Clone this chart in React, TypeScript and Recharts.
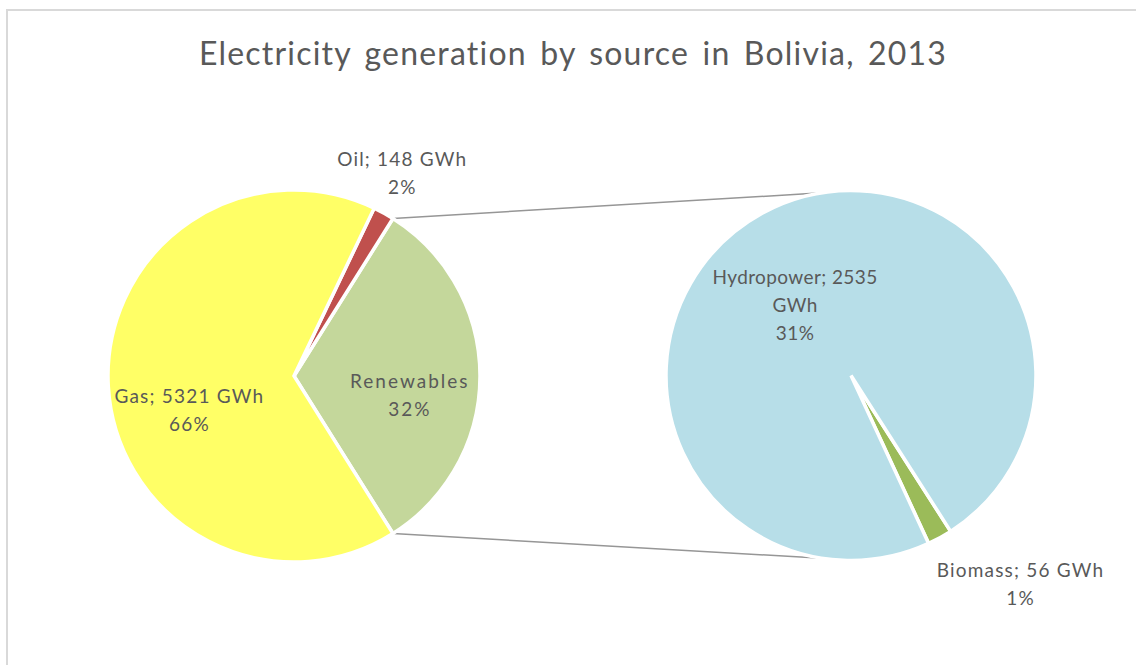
import React from 'react'
import { Cell, Customized, Pie, PieChart } from 'recharts'

// generation in GWh
const fossilNames = ['Oil', 'Gas']
const fossilValues = [148, 5321]
const renewableNames = ['Biomass', 'Hydropower']
const renewableValues = [56, 2535]

const title = 'Electricity generation by source in Bolivia, 2013'

const palette = {
  Gas: '#FFFF66',
  Oil: '#C0504D',
  Renewables: '#C4D79B',
  Hydropower: '#B7DEE8',
  Biomass: '#9BBB59',
  text: '#595959',
  connector: '#969696',
  border: '#D9D9D9',
}

const CHART_W = 1128
const CHART_H = 654
const MAIN = { cx: 286, cy: 365, r: 186 }
const SIDE = { cx: 843, cy: 364.5, r: 185 }
const FONT = 'Lato, "Open Sans", sans-serif'

const renewableTotal = renewableValues.reduce((a, b) => a + b, 0)
const grandTotal = renewableTotal + fossilValues.reduce((a, b) => a + b, 0)

const mainData = [
  { name: 'Renewables', value: renewableTotal },
  ...fossilNames.map((name, i) => ({ name, value: fossilValues[i] })),
]
const sideData = renewableNames.map((name, i) => ({ name, value: renewableValues[i] }))

// split slice is centred on the right-hand side, like Excel's pie of pie
const splitSweep = (renewableTotal / grandTotal) * 360
const mainStart = -splitSweep / 2
const biomassSweep = (renewableValues[0] / renewableTotal) * 360
const sideStart = -61.3 - biomassSweep / 2

// where each label sits, as angle (deg) and fraction of the radius from the centre
const labelSpots: Record<string, { angle: number; dist: number }> = {
  Oil: { angle: 62.0, dist: 1.24 },
  Gas: { angle: 197.6, dist: 0.59 },
  Renewables: { angle: -8.8, dist: 0.63 },
  Hydropower: { angle: 128.1, dist: 0.49 },
  Biomass: { angle: -50.8, dist: 1.45 },
}

function labelLines(name: string, value: number) {
  const pct = `${Math.round((value / grandTotal) * 100)}%`
  if (name === 'Renewables') return [name, pct]
  if (name === 'Hydropower') return [`${name}; ${value}`, 'GWh', pct]
  return [`${name}; ${value} GWh`, pct]
}

function makeLabel(cx: number, cy: number, r: number) {
  return (props: any) => {
    const name = props.payload?.name ?? props.name
    const value = props.payload?.value ?? props.value
    const spot = labelSpots[name]
    const rad = (spot.angle * Math.PI) / 180
    const x = cx + r * spot.dist * Math.cos(rad)
    const y = cy - r * spot.dist * Math.sin(rad)
    const lines = labelLines(name, value)
    const lh = 28
    return (
      <text
        key={name}
        x={x}
        y={y - ((lines.length - 1) * lh) / 2}
        textAnchor="middle"
        dominantBaseline="central"
        fill={palette.text}
        fontSize={19}
        letterSpacing={name === 'Hydropower' ? 0.4 : name === 'Renewables' ? 2 : 1.2}
        fontFamily={FONT}
      >
        {lines.map((line, i) => (
          <tspan key={i} x={x} dy={i === 0 ? 0 : lh}>
            {line}
          </tspan>
        ))}
      </text>
    )
  }
}

function polar(cx: number, cy: number, r: number, angle: number) {
  const rad = (angle * Math.PI) / 180
  return { x: cx + r * Math.cos(rad), y: cy - r * Math.sin(rad) }
}

function Decorations() {
  const a1 = polar(MAIN.cx, MAIN.cy, MAIN.r, splitSweep / 2)
  const b1 = polar(SIDE.cx, SIDE.cy, SIDE.r, 99)
  const a2 = polar(MAIN.cx, MAIN.cy, MAIN.r, -splitSweep / 2)
  const b2 = polar(SIDE.cx, SIDE.cy, SIDE.r, -99)
  return (
    <g>
      <text
        x={565}
        y={54}
        textAnchor="middle"
        fill={palette.text}
        fontSize={32}
        letterSpacing={1.2}
        wordSpacing={4}
        fontFamily={FONT}
      >
        {title}
      </text>
      <line x1={a1.x} y1={a1.y} x2={b1.x} y2={b1.y} stroke={palette.connector} strokeWidth={1.5} />
      <line x1={a2.x} y1={a2.y} x2={b2.x} y2={b2.y} stroke={palette.connector} strokeWidth={1.5} />
    </g>
  )
}

export default function App() {
  return (
    <div
      style={{
        position: 'absolute',
        left: 6,
        top: 9,
        width: 1130,
        height: 656,
        boxSizing: 'border-box',
        borderLeft: `2px solid ${palette.border}`,
        borderTop: `2px solid ${palette.border}`,
        background: '#fff',
        overflow: 'hidden',
      }}
    >
      <PieChart width={CHART_W} height={CHART_H} margin={{ top: 0, right: 0, bottom: 0, left: 0 }}>
        <Customized component={Decorations} />
        <Pie
          data={mainData}
          dataKey="value"
          nameKey="name"
          cx={MAIN.cx}
          cy={MAIN.cy}
          outerRadius={MAIN.r}
          startAngle={mainStart}
          endAngle={mainStart + 360}
          stroke="#fff"
          strokeWidth={3.5}
          label={makeLabel(MAIN.cx, MAIN.cy, MAIN.r)}
          labelLine={false}
          isAnimationActive={false}
        >
          {mainData.map((d) => (
            <Cell key={d.name} fill={palette[d.name as keyof typeof palette]} />
          ))}
        </Pie>
        <Pie
          data={sideData}
          dataKey="value"
          nameKey="name"
          cx={SIDE.cx}
          cy={SIDE.cy}
          outerRadius={SIDE.r}
          startAngle={sideStart}
          endAngle={sideStart + 360}
          stroke="#fff"
          strokeWidth={3.5}
          label={makeLabel(SIDE.cx, SIDE.cy, SIDE.r)}
          labelLine={false}
          isAnimationActive={false}
        >
          {sideData.map((d) => (
            <Cell key={d.name} fill={palette[d.name as keyof typeof palette]} />
          ))}
        </Pie>
      </PieChart>
    </div>
  )
}
